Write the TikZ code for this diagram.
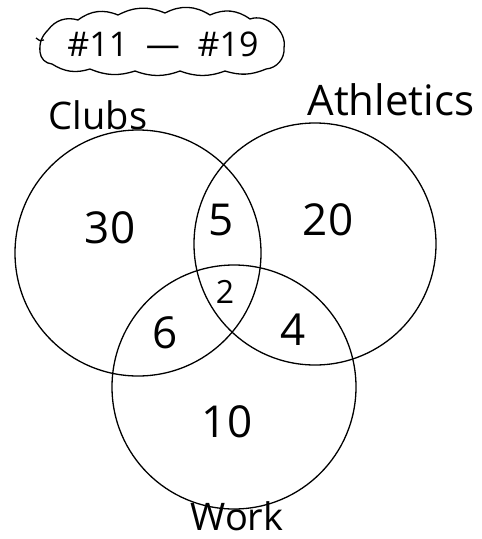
\documentclass[tikz,border=0pt]{standalone}
\usepackage{fontspec}
\setmainfont{Open Sans}
\begin{document}
\begin{tikzpicture}[x=1pt,y=-1pt,
  setcircle/.style={draw,circle,line width=1.3pt,inner sep=0pt},
  lbl/.style={font=\fontsize{38}{40}\selectfont},
  num/.style={font=\fontsize{44}{46}\selectfont},
  cloudline/.style={line width=1.3pt,line join=round}]
\useasboundingbox (0,0) rectangle (482,539);
% title cloud
\coordinate (c0) at (40,52);
\draw[cloudline] (c0) to[bend left=25] (48,30)
  to[bend left=35] (78,20) to[bend left=30] (118,15)
  to[bend left=25] (165,13) to[bend left=30] (210,15)
  to[bend left=30] (250,19) to[bend left=60] (284,48)
  to[bend left=45] (266,69) to[bend left=20] (225,71)
  to[bend left=20] (180,71) to[bend left=20] (135,71)
  to[bend left=20] (90,69) to[bend left=25] (52,64)
  to[bend left=40] (c0);
\draw[cloudline] (36,38) to[bend right=40] (44,40);
\node[font=\fontsize{34}{36}\selectfont] (title) at (163,44) {\#11\ \ —\ \ \#19};
% circles
\node[setcircle,minimum size=246pt] (clubs) at (138,253) {};
\node[setcircle,minimum size=242pt] (athletics) at (315,244) {};
\node[setcircle,minimum size=244pt] (work) at (234,387) {};
% labels
\node[lbl] (clubsL) at (98,115) {Clubs};
\node[lbl,font=\fontsize{42}{44}\selectfont] (athL) at (391,100) {Athletics};
\node[lbl] (workL) at (237,516) {Work};
% numbers
\node[num] (n30) at (110,228) {30};
\node[num] (n5) at (221,220) {5};
\node[num] (n20) at (328,220) {20};
\node[num,font=\fontsize{32}{34}\selectfont] (n2) at (225,292) {2};
\node[num] (n6) at (165,333) {6};
\node[num] (n4) at (293,330) {4};
\node[num] (n10) at (227,422) {10};
\end{tikzpicture}
\end{document}
